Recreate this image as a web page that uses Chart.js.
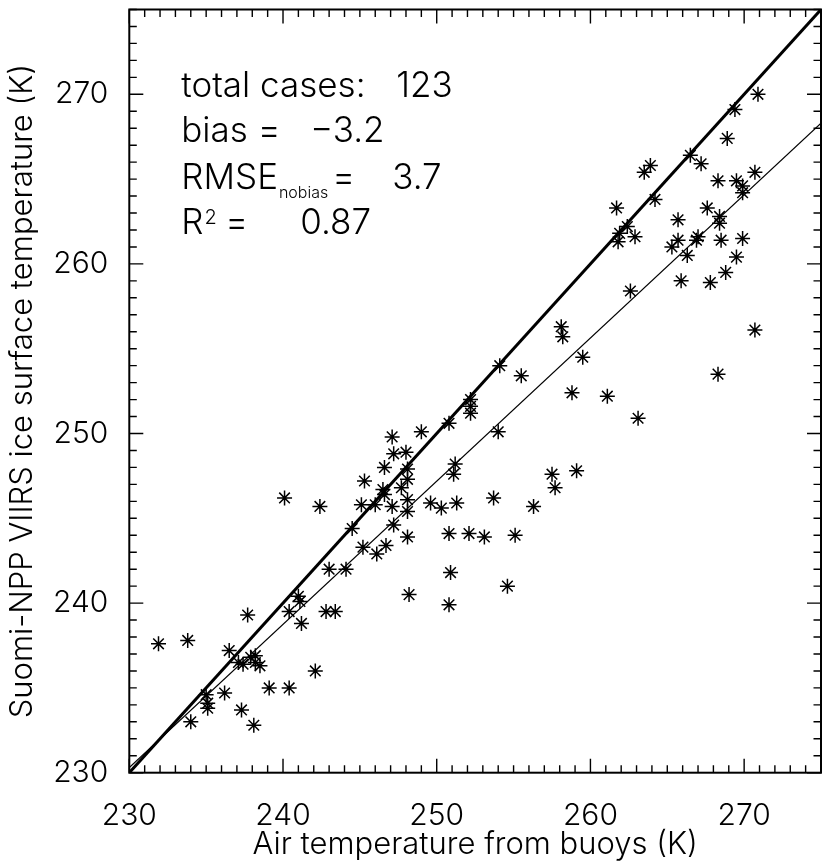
<!DOCTYPE html>
<html lang="en">
<head>
<meta charset="UTF-8" />
<title>VIIRS ice surface temperature vs buoy air temperature</title>
<script src="https://cdn.jsdelivr.net/npm/chart.js@4.4.1/dist/chart.umd.min.js"></script>
<style>
  html, body { margin: 0; padding: 0; background: #fff; overflow: hidden; }
  #wrap { width: 830px; height: 866px; }
</style>
</head>
<body>
<div id="wrap"><canvas id="scatter" width="830" height="866"></canvas></div>
<script>
// axis setup
const xMin = 230, xMax = 275, yMin = 230, yMax = 275;
const xTicks = [230, 240, 250, 260, 270];
const yTicks = [230, 240, 250, 260, 270];

// buoy air temperature (K) vs VIIRS IST (K)
const airTemp = [
  231.9, 233.8, 234.0, 235.0, 235.1, 235.1, 236.2, 236.5, 237.1, 237.4,
  237.7, 237.3, 238.1, 237.9, 238.2, 238.2, 238.5, 239.1, 240.1, 240.4,
  240.4, 241.0, 241.1, 241.2, 242.1, 242.4, 242.8, 243.4, 243.0, 244.1,
  244.5, 245.2, 245.3, 245.1, 246.0, 246.1, 246.5, 246.6, 246.7, 246.6,
  247.1, 247.2, 247.1, 247.2, 247.7, 248.0, 248.1, 248.1, 248.1, 248.1,
  248.1, 248.2, 249.0, 249.6, 250.3, 250.8, 250.8, 250.9, 250.8, 251.2,
  251.1, 251.3, 252.1, 253.1, 255.1, 254.6, 253.7, 256.3, 257.5, 257.7,
  259.1, 262.6, 265.9, 267.8, 270.7, 268.3, 254.1, 255.5, 258.1, 258.2,
  259.5, 258.8, 261.1, 263.1, 252.2, 252.2, 252.2, 254.0, 270.9, 269.4,
  268.9, 266.5, 267.2, 263.9, 263.5, 270.7, 268.3, 269.5, 269.9, 269.9,
  264.2, 261.7, 267.6, 265.7, 268.4, 268.4, 262.4, 261.9, 261.8, 262.9,
  265.7, 265.3, 267.0, 266.9, 268.5, 269.9, 266.3, 269.5, 268.8
];
const viirsIst = [
  237.6, 237.8, 233.0, 234.6, 234.1, 233.8, 234.7, 237.2, 236.5, 236.4,
  239.3, 233.7, 232.8, 236.8, 236.9, 236.5, 236.3, 235.0, 246.2, 235.0,
  239.5, 240.4, 240.1, 238.8, 236.0, 245.7, 239.5, 239.5, 242.0, 242.0,
  244.4, 243.3, 247.2, 245.8, 245.8, 242.9, 246.7, 246.4, 243.4, 248.0,
  249.8, 248.8, 245.7, 244.6, 246.8, 248.9, 247.9, 247.3, 246.1, 245.4,
  243.9, 240.5, 250.1, 245.9, 245.6, 250.6, 244.1, 241.8, 239.9, 248.2,
  247.6, 245.9, 244.1, 243.9, 244.0, 241.0, 246.2, 245.7, 247.6, 246.8,
  247.8, 258.4, 259.0, 258.9, 256.1, 253.5, 254.0, 253.4, 256.3, 255.7,
  254.5, 252.4, 252.2, 250.9, 252.0, 251.6, 251.2, 250.1, 270.0, 269.1,
  267.4, 266.4, 265.9, 265.8, 265.4, 265.4, 264.9, 264.9, 264.6, 264.2,
  263.8, 263.3, 263.3, 262.6, 262.8, 262.4, 262.2, 261.8, 261.3, 261.6,
  261.4, 261.0, 261.6, 261.4, 261.4, 261.5, 260.5, 260.4, 259.5
];

// reference 1:1 line and fitted line
const oneToOneX = [230, 275];
const oneToOneY = [230, 275];
const fitX = [230, 275];
const fitY = [230.3, 268.3];

// statistics box
const totalCases = '123';
const biasValue = '\u22123.2';
const rmseValue = '3.7';
const r2Value = '0.87';

const FONT = 'Inter, "DejaVu Sans"';
const WEIGHT = 300;
Chart.defaults.font.family = FONT;
Chart.defaults.font.weight = WEIGHT;
Chart.defaults.color = '#000';

const toPoints = (xs, ys) => xs.map((v, i) => ({ x: v, y: ys[i] }));

// box, inward ticks on all four sides, and the stats text
const framePlugin = {
  id: 'frame',
  afterDatasetsDraw(chart) {
    const { ctx, chartArea: a, scales: { x, y } } = chart;
    ctx.save();
    ctx.strokeStyle = '#000';
    ctx.lineWidth = 2;
    ctx.strokeRect(a.left, a.top, a.right - a.left, a.bottom - a.top);
    ctx.lineWidth = 1.4;
    ctx.beginPath();
    for (let v = xMin; v <= xMax; v++) {
      const len = xTicks.includes(v) ? 14 : 7.5;
      const px = x.getPixelForValue(v);
      ctx.moveTo(px, a.bottom); ctx.lineTo(px, a.bottom - len);
      ctx.moveTo(px, a.top); ctx.lineTo(px, a.top + len);
    }
    for (let v = yMin; v <= yMax; v++) {
      const len = yTicks.includes(v) ? 14 : 7.5;
      const py = y.getPixelForValue(v);
      ctx.moveTo(a.left, py); ctx.lineTo(a.left + len, py);
      ctx.moveTo(a.right, py); ctx.lineTo(a.right - len, py);
    }
    ctx.stroke();

    // stats text
    const big = WEIGHT + ' 35px ' + FONT;
    const sub = WEIGHT + ' 16px ' + FONT;
    const sup = WEIGHT + ' 20px ' + FONT;
    const x0 = a.left + 52;
    const base = [a.top + 87, a.top + 132, a.top + 179, a.top + 224.5];
    ctx.fillStyle = '#000';
    ctx.textAlign = 'left';
    ctx.textBaseline = 'alphabetic';
    ctx.font = big;
    ctx.fillText('total cases:', x0, base[0]);
    ctx.fillText(totalCases, x0 + 215, base[0]);

    ctx.fillText('bias', x0, base[1]);
    let end = x0 + ctx.measureText('bias').width + 10;
    ctx.fillText('=', Math.max(x0 + 67, end), base[1]);
    ctx.fillText(biasValue, x0 + 129, base[1]);

    ctx.fillText('RMSE', x0, base[2]);
    end = x0 + ctx.measureText('RMSE').width + 1;
    ctx.font = sub;
    ctx.fillText('nobias', end, base[2] + 9);
    end += ctx.measureText('nobias').width + 4;
    ctx.font = big;
    ctx.fillText('=', Math.max(x0 + 146, end), base[2]);
    ctx.fillText(rmseValue, x0 + 211, base[2]);

    ctx.fillText('R', x0, base[3]);
    end = x0 + ctx.measureText('R').width + 1;
    ctx.font = sup;
    ctx.fillText('2', end, base[3] - 10);
    ctx.font = big;
    ctx.fillText('=', x0 + 44, base[3]);
    ctx.fillText(r2Value, x0 + 119, base[3]);
    ctx.restore();
  }
};

new Chart(document.getElementById('scatter'), {
  type: 'scatter',
  data: {
    datasets: [
      {
        label: 'cases',
        data: toPoints(airTemp, viirsIst),
        pointStyle: 'star',
        pointRadius: 7.5,
        pointBorderWidth: 1.5,
        borderColor: '#000',
        backgroundColor: '#000'
      },
      {
        label: '1:1',
        data: toPoints(oneToOneX, oneToOneY),
        showLine: true,
        pointRadius: 0,
        borderColor: '#000',
        borderWidth: 3
      },
      {
        label: 'fit',
        data: toPoints(fitX, fitY),
        showLine: true,
        pointRadius: 0,
        borderColor: '#000',
        borderWidth: 1.2
      }
    ]
  },
  options: {
    responsive: false,
    animation: false,
    layout: { padding: { top: 9.5, right: 2, left: 0, bottom: 0 } },
    plugins: { legend: { display: false }, tooltip: { enabled: false } },
    scales: {
      x: {
        type: 'linear',
        min: xMin, max: xMax,
        grid: { display: false },
        border: { display: false },
        afterBuildTicks: s => { s.ticks = xTicks.map(v => ({ value: v })); },
        afterFit: s => { s.height = 93.3; s.paddingLeft = 0; s.paddingRight = 0; },
        ticks: { font: { size: 30 }, padding: 17, maxRotation: 0 },
        title: {
          display: true,
          text: 'Air temperature from buoys (K)',
          font: { size: 31 },
          padding: { top: 0, bottom: 2.4 }
        }
      },
      y: {
        type: 'linear',
        min: yMin, max: yMax,
        grid: { display: false },
        border: { display: false },
        afterBuildTicks: s => { s.ticks = yTicks.map(v => ({ value: v })); },
        afterFit: s => { s.width = 129.3; s.paddingTop = 0; s.paddingBottom = 0; },
        ticks: { font: { size: 30 }, padding: 13 },
        title: {
          display: true,
          text: 'Suomi-NPP VIIRS ice surface temperature (K)',
          font: { size: 31 },
          padding: { top: 4.4, bottom: 0 }
        }
      }
    }
  },
  plugins: [framePlugin]
});
</script>
</body>
</html>
